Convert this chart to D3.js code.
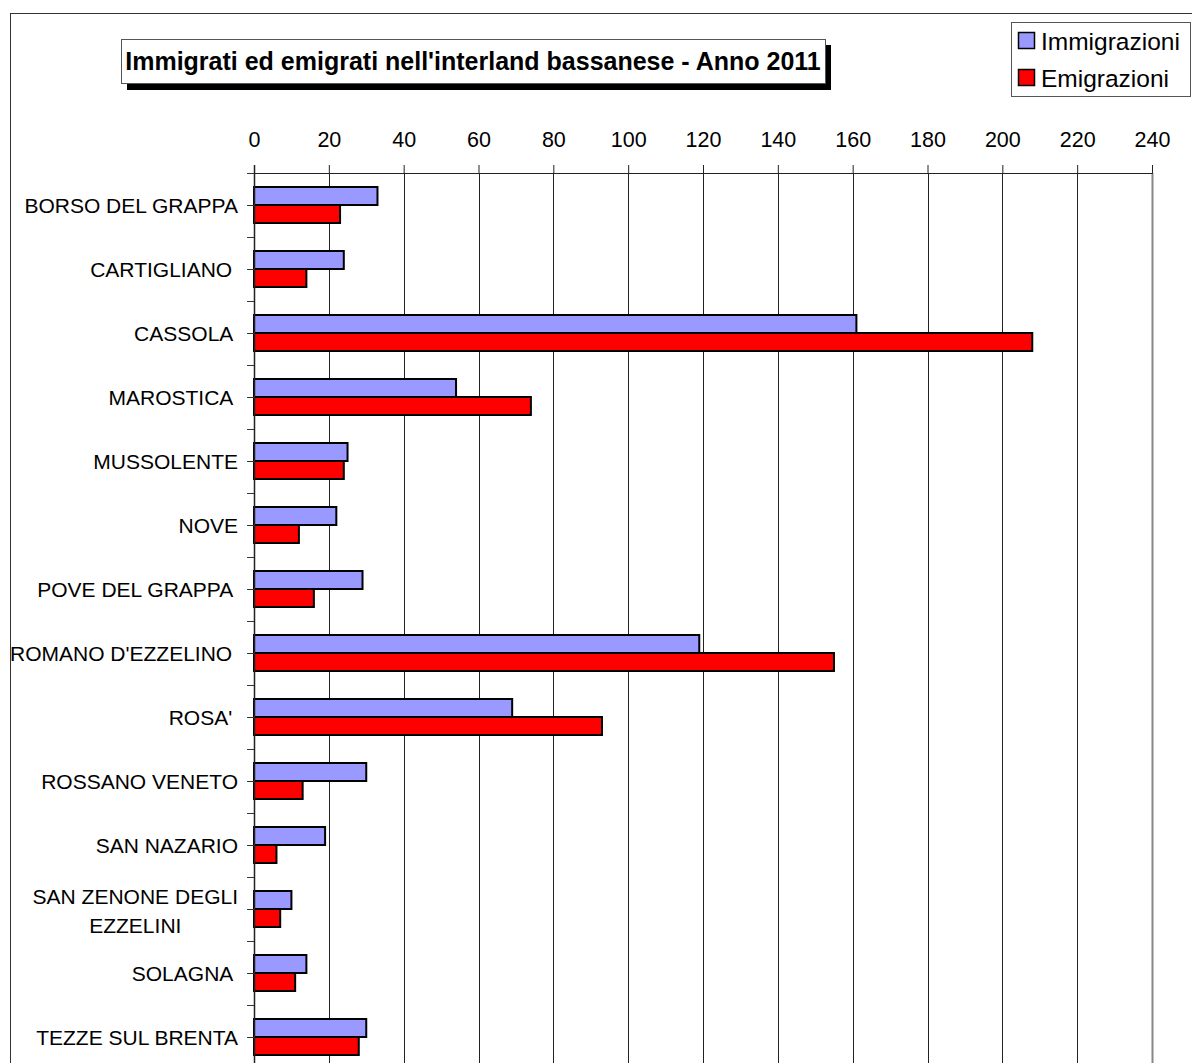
<!DOCTYPE html>
<html>
<head>
<meta charset="utf-8">
<script src="https://cdn.jsdelivr.net/npm/d3@7"></script>
<style>
  body { margin: 0; background: #fff; }
  svg { display: block; font-family: "Liberation Sans", Arial, sans-serif; }
</style>
</head>
<body>
<svg></svg>
<script>
var width = 1192;
var height = 1063;

// data
var comuni = ["BORSO DEL GRAPPA", "CARTIGLIANO ", "CASSOLA ", "MAROSTICA ", "MUSSOLENTE",
              "NOVE", "POVE DEL GRAPPA ", "ROMANO D'EZZELINO ", "ROSA' ", "ROSSANO VENETO",
              "SAN NAZARIO", "SAN ZENONE DEGLI\nEZZELINI", "SOLAGNA ", "TEZZE SUL BRENTA"];
var immigrazioni = [33, 24, 161, 54, 25, 22, 29, 119, 69, 30, 19, 10, 14, 30];
var emigrazioni  = [23, 14, 208, 74, 24, 12, 16, 155, 93, 13, 6, 7, 11, 28];
var serie = ["Immigrazioni", "Emigrazioni"];
var colori = ["#9999FF", "#FF0000"];
var xTicks = [0, 20, 40, 60, 80, 100, 120, 140, 160, 180, 200, 220, 240];
var titolo = "Immigrati ed emigrati nell'interland bassanese - Anno 2011";

var rows = comuni.map((c, i) => ({ comune: c, values: [immigrazioni[i], emigrazioni[i]] }));

var plotLeft = 254, plotRight = 1152, plotTop = 173;
var step = 64;

var svg = d3.select("svg")
    .attr("width", width)
    .attr("height", height);

// outer chart border
svg.append("rect")
    .attr("x", 10.5).attr("y", 13.5)
    .attr("width", width + 20).attr("height", height + 20)
    .attr("fill", "none")
    .attr("stroke", "#333");

var x = d3.scaleLinear()
    .domain([0, 240])
    .range([plotLeft, plotRight]);

var y = d3.scaleBand()
    .domain(comuni)
    .range([plotTop, plotTop + step * comuni.length])
    .padding(0);

var ySub = d3.scaleBand()
    .domain(serie)
    .range([-18, 18]);

var color = d3.scaleOrdinal().domain(serie).range(colori);

// grid lines
svg.append("g")
    .selectAll("line")
    .data(xTicks.slice(1))
  .enter()
  .append("line")
    .attr("x1", d => Math.round(x(d)) + 0.5)
    .attr("x2", d => Math.round(x(d)) + 0.5)
    .attr("y1", plotTop)
    .attr("y2", height + 10)
    .attr("stroke", d => d === 240 ? "#888" : "#222")
    .attr("stroke-width", d => d === 240 ? 2 : 1);

// top axis
var xAxis = d3.axisTop(x)
    .tickValues(xTicks)
    .tickSize(8)
    .tickPadding(18);

svg.append("g")
    .attr("transform", `translate(0, ${plotTop})`)
    .call(xAxis)
    .call(g => g.select(".domain").attr("stroke", "#222"))
    .call(g => g.selectAll(".tick line").attr("stroke", "#222"))
    .call(g => g.selectAll(".tick text")
      .attr("font-family", "Liberation Sans, Arial, sans-serif")
      .attr("font-size", "21.5px")
      .attr("fill", "#000"));

// bars
var groups = svg.append("g")
    .selectAll("g")
    .data(rows)
  .enter()
  .append("g")
    .attr("transform", d => `translate(0, ${y(d.comune) + y.bandwidth() / 2})`);

groups.selectAll("rect")
    .data(d => d.values.map((v, i) => ({ serie: serie[i], value: v })))
  .enter()
  .append("rect")
    .attr("x", x(0))
    .attr("y", d => ySub(d.serie))
    .attr("width", d => x(d.value) - x(0))
    .attr("height", ySub.bandwidth())
    .attr("fill", d => color(d.serie))
    .attr("stroke", "#000")
    .attr("stroke-width", 2);

// left axis with ticks at band edges and centres
var leftAxis = svg.append("g");
leftAxis.append("line")
    .attr("x1", plotLeft + 0.5).attr("x2", plotLeft + 0.5)
    .attr("y1", plotTop - 8).attr("y2", height + 10)
    .attr("stroke", "#222")
    .attr("stroke-width", 1.5);

var tickYs = [];
comuni.forEach(c => { tickYs.push(y(c)); tickYs.push(y(c) + y.bandwidth() / 2); });

leftAxis.selectAll(".ltick")
    .data(tickYs)
  .enter()
  .append("line")
    .classed("ltick", true)
    .attr("x1", plotLeft - 7).attr("x2", plotLeft)
    .attr("y1", d => Math.round(d) + 0.5)
    .attr("y2", d => Math.round(d) + 0.5)
    .attr("stroke", "#333");

// category labels
leftAxis.selectAll(".label")
    .data(comuni)
  .enter()
  .append("text")
    .classed("label", true)
    .attr("font-size", "21px")
    .attr("fill", "#000")
    .style("white-space", "pre")
    .each(function(d) {
      var lines = d.split("\n");
      var t = d3.select(this);
      var cy = y(d) + y.bandwidth() / 2;
      if (lines.length === 1) {
        t.attr("x", 238)
         .attr("y", cy + 7.5)
         .attr("text-anchor", "end")
         .text(d);
      } else {
        t.attr("text-anchor", "middle");
        lines.forEach((l, i) => {
          t.append("tspan")
            .attr("y", cy - 5 + i * 29)
            .text(l);
        });
        var w = d3.max(t.selectAll("tspan").nodes(), n => n.getComputedTextLength());
        t.selectAll("tspan").attr("x", 238 - w / 2);
      }
    });

// title box with shadow
svg.append("rect")
    .attr("x", 127).attr("y", 45)
    .attr("width", 704).attr("height", 45)
    .attr("fill", "#000");
svg.append("rect")
    .attr("x", 121.5).attr("y", 39.5)
    .attr("width", 704).attr("height", 44)
    .attr("fill", "#fff")
    .attr("stroke", "#555");
svg.append("text")
    .attr("x", 473)
    .attr("y", 70)
    .attr("text-anchor", "middle")
    .attr("font-size", "25px")
    .attr("font-weight", "bold")
    .attr("fill", "#000")
    .text(titolo);

// legend
var legend = svg.append("g");
legend.append("rect")
    .attr("x", 1011.5).attr("y", 22.5)
    .attr("width", 179).attr("height", 74)
    .attr("fill", "#fff")
    .attr("stroke", "#555");

var items = legend.selectAll(".item")
    .data(serie)
  .enter()
  .append("g")
    .classed("item", true)
    .attr("transform", (d, i) => `translate(1018, ${32 + i * 37})`);

items.append("rect")
    .attr("x", 0.5).attr("y", 0.5)
    .attr("width", 16).attr("height", 16)
    .attr("fill", d => color(d))
    .attr("stroke", "#000")
    .attr("stroke-width", 1.5);

items.append("text")
    .attr("x", 23)
    .attr("y", 17.5)
    .attr("font-size", "24.5px")
    .attr("fill", "#000")
    .text(d => d);
</script>
</body>
</html>
